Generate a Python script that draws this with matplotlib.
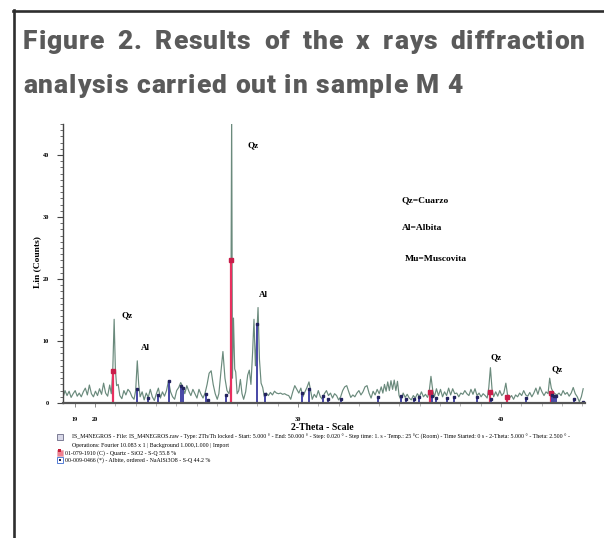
import numpy as np
import matplotlib
matplotlib.use('Agg')
import matplotlib.pyplot as plt
from matplotlib.lines import Line2D
from matplotlib.patches import Rectangle
from matplotlib.ticker import MultipleLocator
from matplotlib.font_manager import FontProperties

scan_2theta = [
	18.43, 18.52, 18.62, 18.72, 18.82, 18.92, 19.02, 19.12, 19.22, 19.32,
	19.42, 19.52, 19.62, 19.72, 19.82, 19.92, 20.02, 20.12, 20.22, 20.32,
	20.42, 20.52, 20.62, 20.72, 20.80, 20.87, 20.94, 21.00, 21.06, 21.14,
	21.22, 21.32, 21.42, 21.52, 21.62, 21.72, 21.82, 21.92, 22.00, 22.08,
	22.15, 22.22, 22.32, 22.42, 22.52, 22.62, 22.72, 22.82, 22.92, 23.02,
	23.12, 23.22, 23.32, 23.42, 23.52, 23.62, 23.72, 23.82, 23.92, 24.02,
	24.12, 24.22, 24.32, 24.42, 24.52, 24.62, 24.72, 24.82, 24.92, 25.02,
	25.12, 25.22, 25.32, 25.42, 25.52, 25.62, 25.72, 25.82, 25.92, 26.02,
	26.10, 26.20, 26.30, 26.40, 26.50, 26.60, 26.68, 26.73, 26.77, 26.82,
	26.88, 26.93, 27.00, 27.08, 27.16, 27.24, 27.32, 27.42, 27.52, 27.60,
	27.68, 27.76, 27.83, 27.90, 27.97, 28.03, 28.10, 28.18, 28.26, 28.34,
	28.44, 28.54, 28.64, 28.74, 28.84, 28.94, 29.04, 29.14, 29.24, 29.34,
	29.44, 29.54, 29.64, 29.74, 29.84, 29.94, 30.04, 30.14, 30.24, 30.34,
	30.44, 30.54, 30.62, 30.70, 30.80, 30.90, 31.00, 31.10, 31.20, 31.30,
	31.40, 31.50, 31.60, 31.70, 31.80, 31.90, 32.00, 32.10, 32.20, 32.30,
	32.40, 32.50, 32.60, 32.70, 32.80, 32.90, 33.00, 33.10, 33.20, 33.30,
	33.40, 33.50, 33.60, 33.70, 33.80, 33.90, 34.00, 34.10, 34.18, 34.26,
	34.34, 34.42, 34.50, 34.58, 34.66, 34.74, 34.82, 34.90, 34.98, 35.08,
	35.18, 35.28, 35.38, 35.48, 35.58, 35.68, 35.78, 35.88, 35.98, 36.08,
	36.18, 36.28, 36.38, 36.46, 36.55, 36.64, 36.72, 36.82, 36.92, 37.02,
	37.12, 37.22, 37.32, 37.42, 37.52, 37.62, 37.72, 37.82, 37.92, 38.02,
	38.12, 38.22, 38.32, 38.42, 38.52, 38.62, 38.72, 38.82, 38.92, 39.02,
	39.12, 39.22, 39.32, 39.40, 39.48, 39.56, 39.64, 39.74, 39.84, 39.94,
	40.04, 40.14, 40.24, 40.32, 40.42, 40.52, 40.62, 40.72, 40.82, 40.92,
	41.02, 41.12, 41.22, 41.32, 41.42, 41.52, 41.62, 41.72, 41.82, 41.92,
	42.02, 42.12, 42.22, 42.32, 42.40, 42.48, 42.56, 42.66, 42.76, 42.86,
	42.96, 43.06, 43.16, 43.26, 43.36, 43.46, 43.56, 43.66, 43.76, 43.86,
	43.96, 44.05,
]
scan_counts = [
	1.0, 2.0, 1.2, 1.9, 0.9, 1.5, 2.0, 1.1, 1.6, 1.0,
	1.8, 2.4, 1.3, 2.9, 1.5, 1.0, 1.9, 1.2, 2.3, 1.4,
	3.2, 1.6, 1.1, 2.9, 1.5, 5.0, 13.5, 5.5, 2.8, 3.0,
	1.2, 0.7, 2.0, 1.3, 2.2, 1.8, 1.0, 0.6, 2.0, 6.8,
	3.0, 1.0, 1.8, 0.5, 1.6, 0.9, 2.2, 1.0, 0.4, 1.5,
	2.4, 0.8, 1.8, 1.1, 2.0, 3.6, 1.8, 1.0, 0.6, 2.0,
	2.5, 3.3, 2.6, 1.5, 2.8, 1.9, 1.2, 2.2, 1.5, 0.8,
	2.2, 1.4, 0.8, 1.6, 3.0, 4.8, 5.2, 3.0, 1.5, 0.6,
	1.5, 5.0, 8.3, 4.0, 2.0, 1.5, 3.0, 47.0, 4.0, 13.7,
	5.5, 5.0, 1.5, 2.0, 3.8, 1.5, 0.6, 1.8, 4.5, 5.3,
	3.0, 8.0, 13.5, 6.0, 11.0, 15.4, 7.0, 3.2, 2.5, 1.0,
	1.6, 1.2, 1.7, 1.3, 1.9, 1.6, 1.5, 1.6, 1.4, 1.5,
	1.3, 1.2, 0.6, 1.8, 2.8, 2.2, 1.6, 2.4, 1.0, 1.8,
	2.5, 3.4, 2.0, 0.6, 1.4, 0.9, 2.0, 1.0, 0.6, 1.5,
	2.0, 1.2, 1.6, 0.8, 1.5, 1.2, 0.5, 1.0, 2.0, 2.6,
	2.8, 1.8, 0.9, 1.3, 1.0, 1.6, 2.0, 1.3, 1.8, 2.6,
	2.8, 1.6, 0.8, 1.9, 1.3, 2.2, 1.5, 2.6, 1.6, 3.0,
	1.9, 3.4, 2.0, 3.6, 2.2, 3.7, 2.0, 3.5, 1.2, 0.4,
	1.6, 0.9, 1.4, 0.8, 0.5, 1.2, 0.8, 1.5, 1.0, 1.8,
	1.0, 1.4, 0.9, 1.8, 4.3, 2.0, 1.0, 2.3, 1.2, 2.2,
	1.0, 1.8, 1.2, 2.4, 1.3, 2.3, 1.5, 1.6, 1.0, 1.6,
	1.4, 2.0, 1.5, 1.2, 2.2, 1.4, 2.3, 1.2, 1.6, 1.0,
	1.5, 1.2, 0.8, 2.5, 5.7, 2.2, 1.0, 1.8, 1.1, 2.0,
	1.2, 1.6, 3.2, 1.4, 0.8, 1.2, 0.6, 1.3, 1.0, 1.6,
	1.2, 2.0, 1.3, 1.1, 1.7, 1.0, 1.6, 2.4, 1.4, 2.6,
	1.8, 1.2, 1.8, 1.5, 4.0, 2.4, 1.8, 1.5, 1.3, 1.6,
	1.2, 2.0, 1.4, 1.7, 1.1, 1.6, 2.5, 1.5, 1.0, 0.2,
	1.0, 2.3,
]

# reference pattern sticks
quartz_pos = [20.88, 26.70, 36.52, 39.46, 40.28, 42.45]
quartz_int = [5.2, 23.0, 1.8, 1.8, 1.0, 1.6]
albite_pos = [22.05, 22.62, 23.10, 23.62, 24.22, 24.32, 25.45, 25.58, 26.45,
	28.00, 28.38, 30.22, 30.55, 31.25, 31.50, 32.12, 33.92, 35.05, 35.32,
	35.72, 35.98, 36.60, 36.78, 37.35, 37.70, 38.80, 39.52, 41.22, 42.50,
	42.62, 42.70, 43.60, 44.02]
albite_int = [2.2, 0.8, 1.3, 3.5, 2.8, 2.4, 1.5, 0.5, 1.3,
	12.7, 1.5, 1.6, 2.3, 1.2, 0.7, 0.7, 0.9, 1.2, 0.6,
	0.6, 1.0, 1.2, 0.8, 0.8, 0.9, 0.9, 0.6, 0.8, 1.3,
	1.2, 1.2, 0.6, 0.2]

peak_labels = ["Qz", "Al", "Qz", "Al", "Qz", "Qz"]
peak_label_x = [21.58, 22.46, 27.78, 28.28, 39.75, 42.76]
peak_label_y = [14.2, 8.9, 41.6, 17.4, 7.4, 5.5]

key_lines = ["Qz=Cuarzo", "Al=Albita", "Mu=Muscovita"]
key_x = [35.12, 35.12, 35.25]
key_y = [32.7, 28.2, 23.2]

xtick_vals = [19, 20, 30, 40]
ytick_vals = [0, 10, 20, 30, 40]

title_lines = ["Figure 2. Results of the x rays diffraction",
	"analysis carried out in sample M 4"]

footer = [
	"IS_M4NEGROS - File: IS_M4NEGROS.raw - Type: 2Th/Th locked - Start: 5.000 \u00b0 - End: 50.000 \u00b0 - Step: 0.020 \u00b0 - Step time: 1. s - Temp.: 25 \u00b0C (Room) - Time Started: 0 s - 2-Theta: 5.000 \u00b0 - Theta: 2.500 \u00b0 -",
	"Operations: Fourier 10.083 x 1 | Background 1.000,1.000 | Import",
	"01-079-1910 (C) - Quartz - SiO2 - S-Q 55.8 %",
	"00-009-0466 (*) - Albite, ordered - NaAlSi3O8 - S-Q 44.2 %",
]

W, H = 604, 538
SERIF = 'Liberation Serif'
LINE = '#6a8a7c'
RED = '#e8305f'
BLUE = '#4646a6'

fig = plt.figure(figsize=(W / 100, H / 100), dpi=100)
renderer = fig.canvas.get_renderer()

# frame of the figure box
fig.add_artist(Line2D([14 / W, 14 / W], [0, 1 - 10 / H], lw=1.9, color='#2e2e2e'))
fig.add_artist(Line2D([13 / W, 1], [1 - 11 / H, 1 - 11 / H], lw=1.9, color='#2e2e2e'))

# title: slight letter spacing, first line justified across the box
tprop = FontProperties(family='Roboto', weight='heavy', size=19)
bar_w = renderer.get_text_width_height_descent('|', tprop, ismath=False)[0]

def text_w(s):
	return renderer.get_text_width_height_descent(s + '|', tprop, ismath=False)[0] - bar_w

x0 = 23
line_ends = [585, 463]
track = (line_ends[1] - x0 - text_w(title_lines[1])) / (len(title_lines[1]) - 1)
for k, (line, ypix) in enumerate(zip(title_lines, [42, 86])):
	gaps = line.count(' ')
	extra = 0.0
	if k == 0:
		extra = (line_ends[0] - x0 - text_w(line) - track * (len(line) - 1)) / gaps
	n_sp = 0
	for i, ch in enumerate(line):
		if ch == ' ':
			n_sp += 1
			continue
		xp = x0 + text_w(line[:i]) + i * track + n_sp * extra
		fig.text(xp / W, 1 - ypix / H, ch, fontproperties=tprop, color='#5a5a5a',
			va='center', ha='left')

ax = fig.add_axes([63 / W, (H - 403) / H, (585 - 63) / W, (403 - 124) / H])
ax.plot(scan_2theta, scan_counts, color=LINE, lw=0.85, zorder=2)
ax.vlines(quartz_pos, 0, quartz_int, color=RED, lw=1.6, zorder=3)
ax.plot(quartz_pos, quartz_int, 's', ms=2.2, color='#c81e4a', zorder=4)
ax.vlines(albite_pos, 0, albite_int, color=BLUE, lw=1.4, zorder=3)
ax.plot(albite_pos, albite_int, 's', ms=2.0, color='#23235e', zorder=4)

for lab, x, y in zip(peak_labels, peak_label_x, peak_label_y):
	ax.text(x, y, lab, family=SERIF, weight='bold', fontsize=6.5, ha='center', va='center')
for lab, x, y in zip(key_lines, key_x, key_y):
	ax.text(x, y, lab, family=SERIF, weight='bold', fontsize=6.8, ha='left', va='center')

ax.set_xlim(18.42, 44.14)
ax.set_ylim(0, 45)
for s in ['top', 'right']:
	ax.spines[s].set_visible(False)
ax.spines['left'].set_color('#444444')
ax.spines['left'].set_linewidth(1.0)
ax.spines['bottom'].set_color('#555555')
ax.spines['bottom'].set_linewidth(1.6)
ax.spines['bottom'].set_zorder(5)

ax.set_xticks(xtick_vals)
ax.set_xticklabels([str(v) for v in xtick_vals])
ax.xaxis.set_minor_locator(MultipleLocator(1))
ax.set_yticks(ytick_vals)
ax.set_yticklabels([str(v) for v in ytick_vals])
ax.yaxis.set_minor_locator(MultipleLocator(1))
ax.tick_params(axis='x', which='major', length=3, width=0.6, color='#777777', pad=7, labelsize=4.5)
ax.tick_params(axis='x', which='minor', length=2, width=0.5, color='#999999')
ax.tick_params(axis='y', which='major', length=4, width=0.8, color='#444444', pad=6, labelsize=4.5)
ax.tick_params(axis='y', which='minor', length=2, width=0.6, color='#555555')
for t in ax.get_xticklabels() + ax.get_yticklabels():
	t.set_family(SERIF)
	t.set_weight('bold')

fig.text(37.5 / W, 1 - 262 / H, "Lin (Counts)", family=SERIF, weight='bold', fontsize=6.8,
	rotation=90, ha='center', va='center')
fig.text(322 / W, 1 - 427 / H, "2-Theta - Scale", family=SERIF, weight='bold', fontsize=7.0,
	ha='center', va='center')

# footer with pattern list
foot_x = [72, 72, 65, 65]
foot_y = [437, 445, 453, 460]
for txt, x, y in zip(footer, foot_x, foot_y):
	fig.text(x / W, 1 - y / H, txt, family=SERIF, fontsize=4.2, ha='left', va='center')
fig.add_artist(Rectangle((57 / W, 1 - 440 / H), 6 / W, 6 / H, facecolor='#d8d8e8', edgecolor='#505070', lw=0.5))
fig.add_artist(Rectangle((57 / W, 1 - 456 / H), 6 / W, 6 / H, facecolor='#f08090', edgecolor='#e0b0b8', lw=0.5))
fig.add_artist(Rectangle((58 / W, 1 - 451.5 / H), 3 / W, 3 / H, facecolor='#c81e3a', edgecolor='none'))
fig.add_artist(Rectangle((57 / W, 1 - 463 / H), 6 / W, 6 / H, facecolor='white', edgecolor='#3a6ad0', lw=0.6))
fig.add_artist(Rectangle((59 / W, 1 - 461 / H), 2 / W, 2 / H, facecolor='#202050', edgecolor='none'))

fig.savefig("out.png", dpi=100)
